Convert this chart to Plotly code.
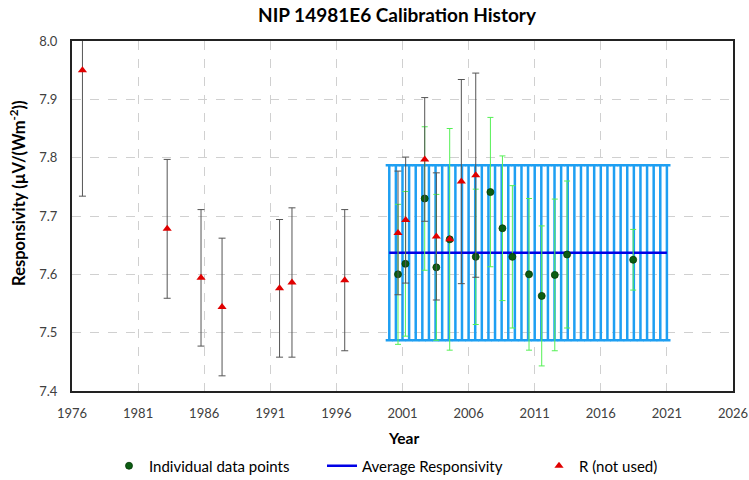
import plotly.graph_objects as go

# ---- data ----
green_years = [2000.66, 2001.22, 2002.68, 2003.56, 2004.57, 2006.54, 2007.65,
               2008.56, 2009.31, 2010.57, 2011.53, 2012.52, 2013.45, 2018.45]
green_vals = [7.600, 7.618, 7.730, 7.612, 7.660, 7.630, 7.741,
              7.679, 7.630, 7.600, 7.563, 7.599, 7.634, 7.625]
green_err = [0.120, 0.124, 0.123, 0.125, 0.190, 0.116, 0.128,
             0.124, 0.122, 0.130, 0.120, 0.130, 0.126, 0.052]

red_years = [1976.79, 1983.20, 1985.76, 1987.35, 1991.70, 1992.64, 1996.63,
             2000.66, 2001.24, 2002.68, 2003.56, 2004.57, 2005.45, 2006.54]
red_vals = [7.950, 7.678, 7.594, 7.544, 7.576, 7.586, 7.590,
            7.671, 7.693, 7.797, 7.665, 7.660, 7.759, 7.770]
red_err = [0.216, 0.119, 0.117, 0.118, 0.118, 0.128, 0.121,
           0.106, 0.108, 0.106, 0.109, 0.0, 0.175, 0.175]

avg_years = [2000.0, 2000.5, 2001.0, 2001.5, 2002.0, 2002.5, 2003.0, 2003.5,
             2004.0, 2004.5, 2005.0, 2005.5, 2006.0, 2006.5, 2007.0, 2007.5,
             2008.0, 2008.5, 2009.0, 2009.5, 2010.0, 2010.5, 2011.0, 2011.5,
             2012.0, 2012.5, 2013.0, 2013.5, 2014.0, 2014.5, 2015.0, 2015.5,
             2016.0, 2016.5, 2017.0, 2017.5, 2018.0, 2018.5, 2019.0, 2019.5,
             2020.0, 2020.5, 2021.0]
avg_value = 7.637
avg_uncertainty = 0.150

x_ticks = [1976, 1981, 1986, 1991, 1996, 2001, 2006, 2011, 2016, 2021, 2026]
y_ticks = [7.4, 7.5, 7.6, 7.7, 7.8, 7.9, 8.0]

FONT = "Lato"
L, R, T, B = 72, 16, 41, 89
PW = 749 - L - R

fig = go.Figure()

# Average responsivity with uncertainty bars
fig.add_trace(go.Scatter(
    x=avg_years, y=[avg_value] * len(avg_years),
    mode="lines", name="Average Responsivity",
    line=dict(color="#0000E6", width=2.5),
    legendwidth=172,
    error_y=dict(type="data", array=[avg_uncertainty] * len(avg_years),
                 color="#1E9FF2", thickness=2.5, width=3.6),
))

# Individual data points
fig.add_trace(go.Scatter(
    x=green_years, y=green_vals, mode="markers", name="Individual data points",
    marker=dict(symbol="circle", size=7, color="#0B5D12",
                line=dict(color="#063A08", width=0.8)),
    legendwidth=168,
    error_y=dict(type="data", array=green_err, color="#55F055",
                 thickness=1, width=3),
))

# R (not used)
fig.add_trace(go.Scatter(
    x=red_years, y=red_vals, mode="markers", name="R (not used)",
    marker=dict(symbol="triangle-up", size=8, color="#E00000"),
    legendwidth=90,
    error_y=dict(type="data", array=red_err, color="#555555",
                 thickness=1, width=3.5),
))

grid = dict(showgrid=True, gridcolor="#D0D0D0", gridwidth=1, griddash="dash")

fig.update_xaxes(
    range=[1976, 2026], tickvals=x_ticks, ticktext=[str(t) for t in x_ticks],
    showline=True, linecolor="#222222", linewidth=2, mirror=True,
    ticks="outside", ticklen=9, tickcolor="rgba(0,0,0,0)",
    tickfont=dict(family=FONT, size=13, color="#404040"),
    zeroline=False, automargin=False, **grid,
)
fig.update_yaxes(
    range=[7.4, 8.0], tickvals=y_ticks, ticktext=[f"{t:.1f}" for t in y_ticks],
    showline=True, linecolor="#222222", linewidth=2, mirror=True,
    ticks="outside", ticklen=10, tickcolor="rgba(0,0,0,0)",
    tickfont=dict(family=FONT, size=13, color="#404040"),
    zeroline=False, automargin=False, **grid,
)

fig.update_layout(
    width=749, height=480,
    margin=dict(l=L, r=R, t=T, b=B, autoexpand=False),
    paper_bgcolor="white", plot_bgcolor="white",
    font=dict(family=FONT, color="#000000"),
    title=dict(text="<b>NIP 14981E6 Calibration History</b>",
               x=397 / 749, xref="container", xanchor="center",
               y=1 - 15 / 480, yref="container", yanchor="middle",
               automargin=False,
               font=dict(family=FONT, size=19, color="#000000")),
    showlegend=True,
    legend=dict(orientation="h", x=(109 - L) / PW, xanchor="left",
                xref="paper", yref="container",
                y=1 - 466 / 480, yanchor="middle",
                font=dict(family=FONT, size=15, color="#000000"),
                traceorder="normal", itemsizing="trace",
                bgcolor="rgba(0,0,0,0)"),
    annotations=[
        dict(text="<b>Year</b>", xref="paper", yref="paper",
             x=(403 - L) / PW, y=-0.134, xanchor="center", yanchor="middle",
             showarrow=False, font=dict(family=FONT, size=15.5, color="#000000")),
        dict(text="<b>Responsivity (µV/(Wm<sup>-2</sup>))</b>",
             xref="paper", yref="paper", x=(18 - L) / PW, y=0.566,
             xanchor="center", yanchor="middle", textangle=-90,
             showarrow=False, font=dict(family=FONT, size=16.5, color="#000000")),
    ],
)

# legend order: dots, line, triangles
fig.data[1].legendrank = 1
fig.data[0].legendrank = 2
fig.data[2].legendrank = 3

fig.write_html(
    "out.html",
    config={"displayModeBar": False},
    post_script="document.body.style.margin='0';document.body.style.padding='0';",
)
